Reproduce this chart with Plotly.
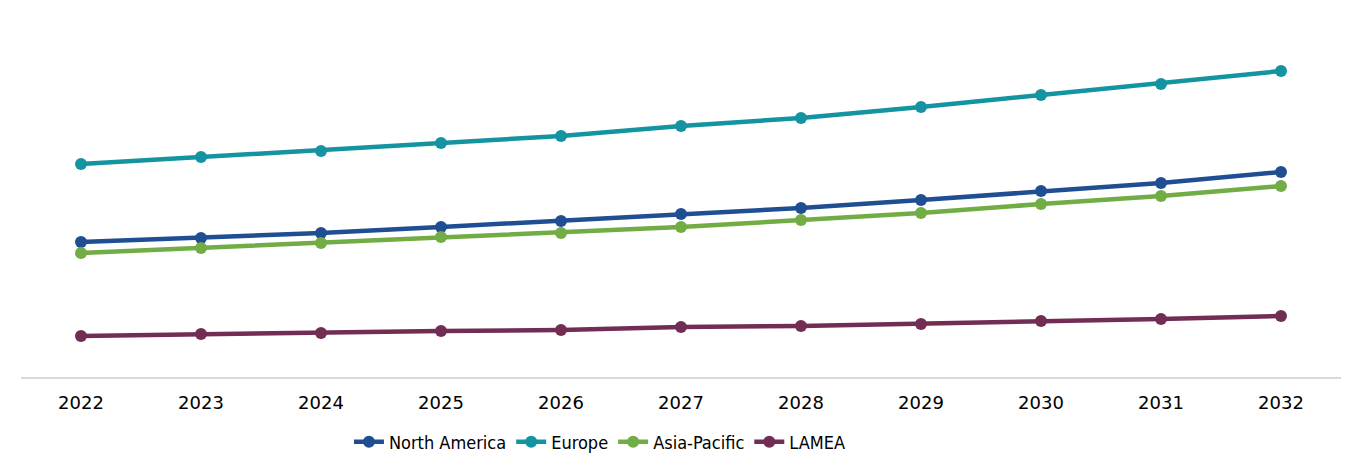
import plotly.graph_objects as go

years = ["2022", "2023", "2024", "2025", "2026", "2027", "2028", "2029", "2030", "2031", "2032"]
north_america = [135, 139, 144, 150, 156, 163, 169, 177, 186, 194, 205]
europe = [213, 220, 226, 234, 241, 251, 259, 270, 282, 293, 306]
asia_pacific = [124, 129, 134, 140, 144, 150, 157, 164, 173, 181, 191]
lamea = [41, 43, 44, 46, 47, 50, 51, 53, 56, 58, 61]

series = [
    ("North America", north_america, "#1F4E93"),
    ("Europe", europe, "#1493A0"),
    ("Asia-Pacific", asia_pacific, "#71AC45"),
    ("LAMEA", lamea, "#722D54"),
]

fig = go.Figure()
for name, vals, col in series:
    fig.add_trace(go.Scatter(
        x=years, y=vals, name=name, mode="lines+markers",
        line=dict(color=col, width=4.5),
        marker=dict(color=col, size=12),
    ))

fig.update_layout(
    width=1364, height=474,
    paper_bgcolor="white", plot_bgcolor="white",
    margin=dict(l=13, r=31, t=2, b=105),
    showlegend=True,
    legend=dict(
        orientation="h", x=0.4386, xanchor="center", y=-0.127, yanchor="top",
        font=dict(family="DejaVu Sans Condensed, sans-serif", size=18, color="#000000"),
        itemwidth=30, tracegroupgap=0,
    ),
    xaxis=dict(
        type="category", range=[-0.5, 10.5],
        showgrid=False, zeroline=False,
        showline=True, linecolor="#D9D9D9", linewidth=2,
        ticks="", ticklen=0, ticklabelstandoff=8,
        tickfont=dict(family="DejaVu Sans, Verdana, sans-serif", size=18, color="#000000"),
    ),
    yaxis=dict(
        range=[0, 367], showgrid=False, zeroline=False,
        showticklabels=False, showline=False, ticks="",
    ),
)

fig.write_html("out.html")
